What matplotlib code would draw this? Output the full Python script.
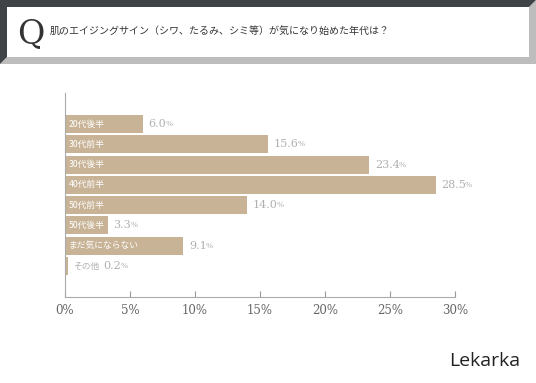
import matplotlib
matplotlib.use("Agg")
import matplotlib.pyplot as plt
from matplotlib.patches import Polygon

plt.rcParams['font.family'] = ['Noto Sans CJK JP', 'DejaVu Sans']

# データ
categories = ['20代後半', '30代前半', '30代後半', '40代前半', '50代前半', '50代後半', 'まだ気にならない', 'その他']
values = [6.0, 15.6, 23.4, 28.5, 14.0, 3.3, 9.1, 0.2]
xticks = [0, 5, 10, 15, 20, 25, 30]
title = '肌のエイジングサイン（シワ、たるみ、シミ等）が気になり始めた年代は？'

W, H = 536, 383
fig = plt.figure(figsize=(W / 100, H / 100), dpi=100)

# 背景（見出しの枠）
bg = fig.add_axes([0, 0, 1, 1])
bg.set_xlim(0, W)
bg.set_ylim(H, 0)
bg.axis('off')
dark = Polygon([(0, 0), (W, 0), (W - 7, 7), (7, 7), (7, 57), (0, 64)], closed=True,
               facecolor='#404345', edgecolor='none')
light = Polygon([(0, 64), (W, 64), (W, 0), (W - 7, 7), (W - 7, 57), (7, 57)], closed=True,
                facecolor='#bdbdbd', edgecolor='none')
bg.add_patch(light)
bg.add_patch(dark)
bg.text(31, 34, 'Q', fontsize=24, family='DejaVu Serif', color='#333333',
        ha='center', va='center')
bg.text(50, 32, title, fontsize=7.2, color='#333333', ha='left', va='center')
bg.text(485, 361, 'Lekarka', fontsize=14, family='Open Sans', color='#222222',
        ha='center', va='center')

# グラフ
ax = fig.add_axes([65 / W, 1 - 297 / H, 390 / W, 204 / H])
bar_color = '#c8b396'
pos = list(range(len(categories)))
ax.barh(pos, values, height=0.88, color=bar_color, edgecolor='none')
ax.set_xlim(0, 30)
ax.set_ylim(7 + 1.53, -1.53)
ax.set_yticks([])
ax.set_xticks(xticks)
ax.set_xticklabels([f'{t}%' for t in xticks], family='DejaVu Serif', fontsize=8.5, color='#666666')
ax.tick_params(axis='x', direction='in', length=4, color='#999999', pad=5)
for s in ['top', 'right']:
    ax.spines[s].set_visible(False)
for s in ['left', 'bottom']:
    ax.spines[s].set_color('#aaaaaa')
    ax.spines[s].set_linewidth(0.8)

val_color = '#b0b0b0'
for i, (c, v) in enumerate(zip(categories, values)):
    if v < 2:
        lab = ax.annotate(c, xy=(v, i), xytext=(4, 0), textcoords='offset points',
                          fontsize=6.3, color=val_color, ha='left', va='center')
        num = ax.annotate(f'{v:.1f}', xy=(1, 0.5), xycoords=lab, xytext=(3, 0),
                          textcoords='offset points', family='DejaVu Serif', fontsize=8,
                          color=val_color, ha='left', va='center')
    else:
        ax.annotate(c, xy=(0, i), xytext=(2.5, 0), textcoords='offset points',
                    fontsize=6.3, color='white', ha='left', va='center')
        num = ax.annotate(f'{v:.1f}', xy=(v, i), xytext=(4, 0), textcoords='offset points',
                          family='DejaVu Serif', fontsize=8, color=val_color,
                          ha='left', va='center')
    ax.annotate('%', xy=(1, 0.1), xycoords=num, xytext=(-0.6, 0), textcoords='offset points',
                family='DejaVu Serif', fontsize=5.5, color=val_color, ha='left', va='bottom')

fig.savefig('out.png', dpi=100)
